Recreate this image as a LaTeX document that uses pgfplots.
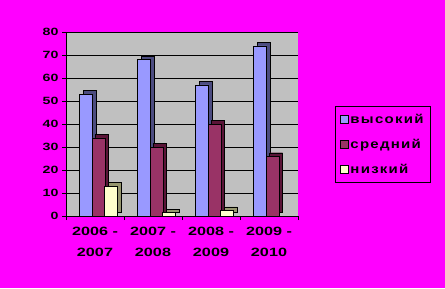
\documentclass[border=0pt]{standalone}
\usepackage{pgfplots}
\pgfplotsset{compat=1.18}
\usepackage{fontspec}
\setmainfont{Liberation Sans}
\newfontfamily\tickfont[FakeStretch=1.35]{Liberation Sans}
\newfontfamily\legfont[FakeStretch=1.2,LetterSpace=10]{Liberation Sans}
\definecolor{bg}{RGB}{255,0,255}
\definecolor{wall}{RGB}{192,192,192}
\definecolor{hi}{RGB}{153,153,255}
\definecolor{hiD}{RGB}{76,76,128}
\definecolor{mid}{RGB}{153,51,102}
\definecolor{midD}{RGB}{90,20,55}
\definecolor{lo}{RGB}{255,255,204}
\definecolor{loD}{RGB}{150,150,110}
\pgfplotsset{sqlegend/.style={legend image code/.code={\draw[##1] (0bp,-4bp) rectangle (8bp,4bp);}}}
\begin{document}
\begin{tikzpicture}[x=1bp,y=1bp]
\fill[bg] (0,0) rectangle (445,288);
\useasboundingbox (0,0) rectangle (445,288);
\begin{axis}[
  at={(66bp,72bp)}, anchor=south west,
  scale only axis, width=232bp, height=184bp,
  xmin=-0.5, xmax=3.5, ymin=0, ymax=80,
  bar width=13bp,
  axis background/.style={fill=wall},
  axis lines*=left,
  axis line style={black, line width=0.8pt},
  ytick={0,10,...,80},
  ymajorgrids, grid style={black, line width=0.8pt},
  xtick={0,1,2,3},
  xticklabels={{2006 -\\2007},{2007 -\\2008},{2008 -\\2009},{2009 -\\2010}},
  xticklabel style={align=center, yshift=-4bp, font=\tickfont\fontsize{12bp}{21bp}\selectfont\bfseries},
  yticklabel style={font=\tickfont\fontsize{10.5bp}{12bp}\selectfont\bfseries},
  /pgf/number format/assume math mode=true,
  major x tick style={draw=none},
  minor xtick={-0.5,0.5,1.5,2.5,3.5},
  tick style={black, line width=0.8pt},
  tick align=outside,
  major tick length=4bp, minor tick length=4bp,
  legend style={draw=black, fill=bg, at={(1.159,0.598)}, anchor=north west,
    font=\legfont\fontsize{12.5bp}{14bp}\selectfont\bfseries,
    row sep=10bp, inner xsep=5bp, inner ysep=6bp},
  legend cell align=left,
]
\addlegendimage{fill=hi, draw=black, sqlegend}
\addlegendentry{высокий}
\addlegendimage{fill=mid, draw=black, sqlegend}
\addlegendentry{средний}
\addlegendimage{fill=lo, draw=black, sqlegend}
\addlegendentry{низкий}
\addplot[ybar, bar shift=-9bp, forget plot, fill=hi, draw=black, preaction={fill=hiD, draw=black, transform canvas={shift={(3.5bp,3.5bp)}}}]
  coordinates {(0,53) (1,68) (2,57) (3,74)};
\addplot[ybar, bar shift=3.5bp, forget plot, fill=mid, draw=black, preaction={fill=midD, draw=black, transform canvas={shift={(3.5bp,3.5bp)}}}]
  coordinates {(0,34) (1,30) (2,40) (3,26)};
\addplot[ybar, bar shift=16bp, forget plot, fill=lo, draw=black, preaction={fill=loD, draw=black, transform canvas={shift={(3.5bp,3.5bp)}}}]
  coordinates {(0,13) (1,1.5) (2,2.5)};
\end{axis}
\end{tikzpicture}
\end{document}
